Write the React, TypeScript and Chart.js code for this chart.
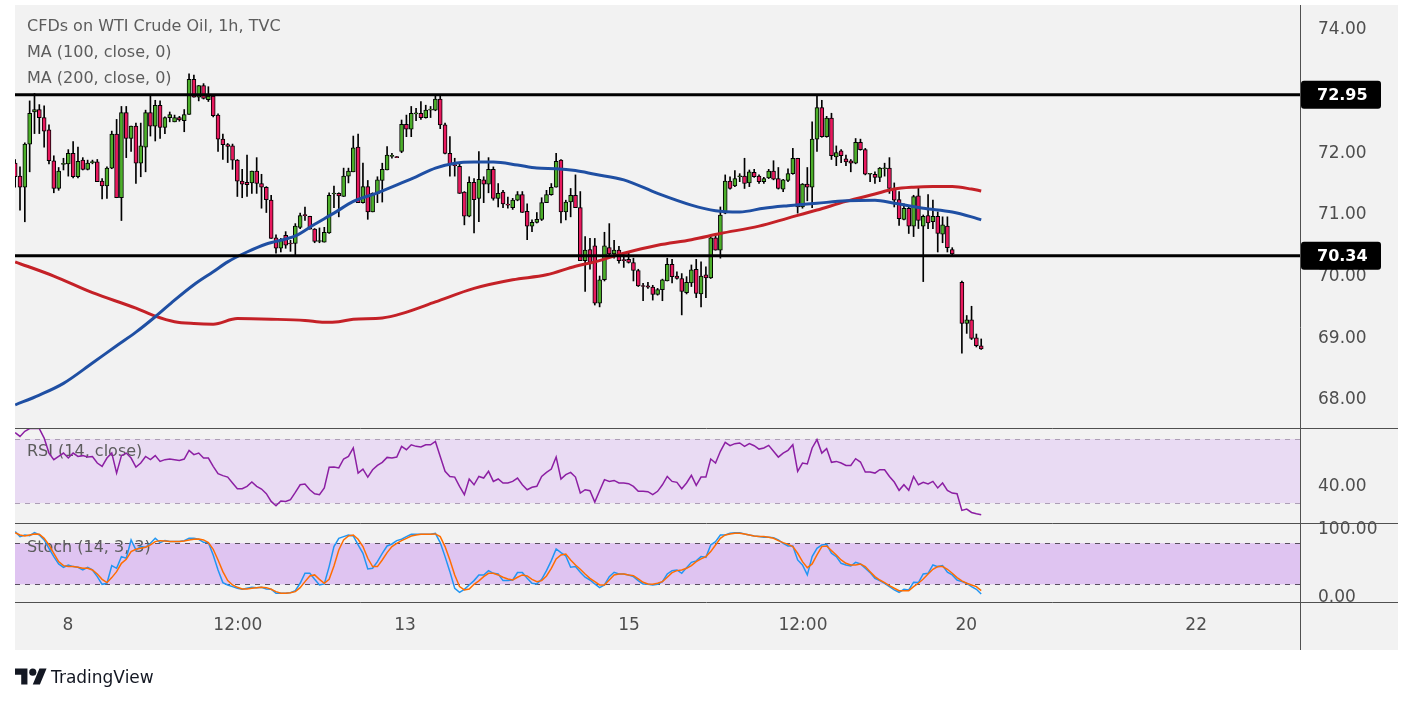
import React, { useEffect, useRef } from 'react';
import { Chart, registerables } from 'chart.js';

Chart.register(...registerables);

// ---------- DATA ----------
const titleLines = ['CFDs on WTI Crude Oil, 1h, TVC', 'MA (100, close, 0)', 'MA (200, close, 0)'];
const rsiTitle = 'RSI (14, close)';
const stochTitle = 'Stoch (14, 3, 3)';

const xTickPos = [10.9, 46.1, 80.7, 127.1, 163.1, 196.9, 244.5];
const xTickLabels = ['8', '12:00', '13', '15', '12:00', '20', '22'];

const priceTicks = [68, 69, 70, 71, 72, 74];
const rsiTicks = [40];
const stochTicks = [0, 100];
const levels = [72.95, 70.34];
const rsiBand = [30, 70];
const stochBand = [20, 80];

const opens = [
71.84,71.63,71.45,72.15,72.67,72.71,72.58,72.38,71.88,71.43,
71.82,71.83,72.00,71.62,71.89,71.74,71.85,71.86,71.55,71.47,
71.76,72.31,71.28,72.66,72.24,72.44,71.84,72.10,72.66,72.44,
72.78,72.42,72.58,72.51,72.58,72.53,72.63,73.20,72.91,73.10,
72.87,72.93,72.62,72.23,72.14,72.12,71.89,71.55,71.53,71.52,
71.71,71.51,71.45,71.24,70.63,70.46,70.67,70.54,70.54,70.80,
71.00,70.98,70.77,70.57,70.56,70.71,71.34,71.35,71.30,71.63,
71.70,72.10,71.20,71.46,71.05,71.34,71.56,71.73,71.95,71.94,
72.03,72.47,72.39,72.64,72.65,72.58,72.70,72.70,72.88,72.46,
72.00,71.81,71.79,71.37,70.98,71.53,71.27,71.57,71.50,71.74,
71.27,71.37,71.17,71.12,71.24,71.33,71.06,70.82,70.88,70.93,
71.20,71.33,71.45,71.89,71.05,71.21,71.32,71.12,70.26,70.44,
70.50,69.57,69.95,70.47,70.37,70.43,70.27,70.28,70.23,70.10,
69.85,69.85,69.83,69.71,69.79,69.93,70.20,70.01,69.97,69.74,
69.90,70.12,69.72,70.03,69.98,70.63,70.43,71.03,71.55,71.47,
71.62,71.63,71.52,71.69,71.63,71.54,71.60,71.71,71.59,71.42,
71.56,71.67,71.92,71.13,71.50,71.45,72.23,72.74,72.27,72.57,
71.94,72.04,71.91,71.88,71.84,72.18,72.06,71.66,71.66,71.61,
71.75,71.76,71.43,71.25,70.93,71.11,70.82,71.31,70.82,70.99,
70.89,70.98,70.69,70.82,70.44,null,69.91,69.24,69.30,69.01,
68.88];

const highs = [
71.90,71.78,72.17,72.85,72.97,72.79,72.77,72.46,71.96,71.77,
71.92,72.06,72.19,72.10,71.93,71.89,71.89,71.90,71.59,71.78,
72.36,72.55,72.76,72.76,72.44,72.49,72.49,72.70,72.94,72.86,
72.85,72.59,72.67,72.62,72.60,72.71,73.29,73.27,73.10,73.13,
73.08,72.94,72.64,72.31,72.16,72.15,71.90,71.74,71.97,71.71,
71.93,71.66,71.46,71.32,70.68,70.62,70.73,70.59,70.86,71.03,
71.13,70.98,70.78,70.79,70.80,71.36,71.47,71.36,71.76,71.76,
72.28,72.31,71.84,71.56,71.36,71.62,71.84,72.11,72.00,71.95,
72.54,72.62,72.76,72.73,72.84,72.78,72.76,72.94,72.94,72.49,
72.27,71.92,71.84,71.38,71.62,71.59,72.03,71.62,71.93,71.78,
71.51,71.40,71.29,71.27,71.38,71.38,71.18,70.92,71.04,71.28,
71.40,71.51,72.00,71.90,71.24,71.43,71.65,71.38,70.65,70.62,
70.62,70.01,70.72,70.86,70.59,70.49,70.35,70.40,70.30,70.12,
69.89,69.91,69.86,69.81,69.96,70.30,70.28,70.08,70.05,70.00,
70.19,70.28,70.24,70.16,70.65,70.67,71.13,71.65,71.62,71.72,
71.67,71.92,71.73,71.74,71.65,71.61,71.74,71.88,71.77,71.58,
71.75,72.08,71.92,71.51,71.77,72.51,72.93,72.86,72.60,72.65,
72.12,72.06,71.97,71.90,72.24,72.23,72.08,71.67,71.70,71.77,
71.84,71.93,71.52,71.38,71.18,71.13,71.32,71.45,71.00,71.33,
71.24,71.05,70.97,70.97,70.47,null,69.93,69.37,69.52,69.07,
68.99];

const lows = [
71.45,71.08,70.89,71.70,72.32,72.32,72.10,71.83,71.36,71.40,
71.73,71.63,71.60,71.60,71.73,71.73,71.83,71.54,71.26,71.27,
71.75,71.28,70.91,71.93,72.03,71.51,71.62,71.70,72.28,72.20,
72.24,72.32,72.51,72.51,72.52,72.35,72.63,72.91,72.85,72.88,
72.84,72.59,72.03,71.90,71.85,71.74,71.30,71.28,71.30,71.35,
71.35,71.11,71.04,70.62,70.38,70.40,70.46,70.41,70.35,70.78,
70.91,70.77,70.55,70.55,70.56,70.70,71.12,70.97,71.30,71.52,
71.70,71.20,71.19,70.93,71.05,71.20,71.21,71.73,71.92,71.93,
72.01,72.27,72.27,72.53,72.55,72.57,72.58,72.69,72.40,71.99,
71.63,71.63,71.35,70.84,70.97,70.71,70.89,71.20,71.36,71.24,
71.13,71.12,71.11,71.09,71.23,71.04,70.60,70.73,70.87,70.91,
71.20,71.32,71.45,70.87,70.92,70.97,71.12,70.26,69.76,70.12,
69.54,69.51,69.93,70.35,70.30,70.22,70.15,70.22,69.93,69.84,
69.61,69.81,69.62,69.70,69.61,69.93,69.90,69.96,69.38,69.72,
69.84,69.66,69.51,69.66,69.97,70.43,70.30,71.02,71.42,71.46,
71.54,71.43,71.46,71.61,71.51,71.51,71.59,71.57,71.42,71.38,
71.54,71.66,71.03,71.11,71.23,71.12,72.03,72.26,72.26,71.90,
71.80,71.85,71.80,71.70,71.83,72.05,71.65,71.54,71.51,71.54,
71.63,71.35,71.13,70.83,70.92,70.70,70.65,70.78,69.92,70.78,
70.78,70.40,70.55,70.40,70.35,null,68.76,69.08,68.98,68.86,
68.82];

const closes = [
71.62,71.45,72.15,72.65,72.71,72.58,72.36,71.88,71.43,71.71,
71.82,72.00,71.62,71.87,71.74,71.84,71.86,71.54,71.47,71.76,
72.31,71.28,72.66,72.24,72.44,71.84,72.12,72.66,72.44,72.78,
72.42,72.58,72.63,72.58,72.54,72.63,73.20,72.91,73.10,72.89,
72.93,72.61,72.23,72.14,72.11,71.89,71.55,71.50,71.49,71.71,
71.51,71.45,71.25,70.62,70.46,70.59,70.51,70.53,70.82,70.99,
70.99,70.77,70.57,70.57,70.72,71.32,71.34,71.31,71.63,71.71,
72.09,71.20,71.46,71.05,71.35,71.57,71.74,71.97,71.95,71.93,
72.47,72.39,72.65,72.65,72.58,72.70,72.70,72.88,72.46,72.00,
71.83,71.80,71.35,70.98,71.53,71.25,71.58,71.50,71.74,71.27,
71.35,71.18,71.16,71.24,71.33,71.04,70.82,70.88,70.93,71.20,
71.33,71.45,71.87,71.05,71.21,71.32,71.12,70.26,70.43,70.23,
69.57,69.95,70.50,70.37,70.43,70.26,70.26,70.23,70.10,69.85,
69.84,69.83,69.71,69.79,69.95,70.20,70.00,69.97,69.76,69.91,
70.11,69.73,70.01,69.98,70.63,70.43,71.00,71.55,71.43,71.59,
71.62,71.51,71.70,71.62,71.54,71.59,71.71,71.58,71.43,71.57,
71.67,71.92,71.13,71.50,71.45,72.23,72.74,72.27,72.57,71.96,
72.01,71.96,71.86,71.84,72.18,72.06,71.66,71.66,71.61,71.76,
71.75,71.43,71.24,70.94,71.11,70.82,71.30,70.91,70.98,70.87,
70.98,70.70,70.84,70.47,70.37,null,69.24,69.30,69.00,68.88,
68.83];

const ma100Idx = [0,5,10,16,21,25,29,33,37,41,44,48,52,58,62,66,70,75,80,83,87,91,95,99,104,108,112,116,120,126,133,140,145,150,155,160,166,172,178,182,188,194,198,200];
const ma100Val = [67.92,68.08,68.27,68.6,68.88,69.1,69.35,69.62,69.87,70.08,70.24,70.4,70.53,70.66,70.85,71.03,71.22,71.36,71.52,71.62,71.76,71.84,71.86,71.86,71.81,71.76,71.75,71.72,71.66,71.57,71.35,71.16,71.07,71.05,71.11,71.15,71.19,71.23,71.24,71.19,71.11,71.05,70.97,70.92];

const ma200Idx = [0,8,16,25,29,33,37,41,46,53,60,64,67,70,76,80,87,95,103,110,116,120,126,133,140,146,154,160,166,172,178,182,186,190,194,198,200];
const ma200Val = [70.24,70.01,69.74,69.49,69.36,69.27,69.24,69.23,69.32,69.31,69.29,69.26,69.27,69.31,69.33,69.4,69.59,69.81,69.95,70.03,70.17,70.24,70.38,70.51,70.6,70.7,70.82,70.95,71.08,71.22,71.34,71.42,71.45,71.46,71.46,71.42,71.39];

const rsi = [
74,71.6,74.8,76.5,76.5,76.5,70.6,61.2,57.1,59.1,
61.2,58.1,61.2,59.1,59.6,58.7,59.1,55,52.9,58.1,
61.2,48.7,59.6,61.2,58.1,52.5,55,59.1,57.1,59.6,
56,57.1,57.5,57.1,56.6,57.5,62.9,60.2,61.2,58.1,
58.1,52.9,48.3,47.1,46.2,42.5,38.9,38.9,40.4,43.1,
40.4,38.7,35.8,31,28.3,31.2,31,32.1,36.6,41.4,
41.8,38.3,35.8,35.2,39.4,52.3,52.5,51.9,57.5,59.1,
64.4,48.7,51.2,46.2,50.8,53.5,55.4,58.5,58.1,58.7,
65.4,63.3,66.4,65.4,65,66.4,66.4,68.5,59.1,49.8,
46.6,46.2,40.4,35.2,45,41.4,46.6,45.6,49.8,43.5,
45,42.5,42.5,43.5,45.6,41.4,38.3,39.8,40.4,46.6,
49.1,51.2,58.7,45,47.7,49.1,46.2,36.2,38.3,37.7,
30.6,37.7,44.6,43.5,44.1,42.5,42.5,42.1,40.4,37.3,
37.3,37.1,35.2,37.3,41.4,46.6,43.5,42.9,38.9,42.5,
47.3,41,46.2,46.2,57.5,55,62.3,67.9,65.8,67.1,
67.5,65.4,67.1,65.8,63.7,64.4,66,62.3,58.7,61.2,
62.9,66.4,49.8,55,54.4,64.4,69.6,61.2,64,55.4,
56,55,53.5,53.5,57.7,55.6,49.4,49.4,48.7,50.8,
50.8,46.6,43.1,37.9,41.4,37.9,46.6,41.4,42.9,41.9,
43.5,39.4,42.5,37.9,36.2,35.8,25.4,26.2,24.1,23.3,
22.7];

const stochK = [
97.1,89.8,92.2,91.2,95.6,92.2,84.9,72.7,60.5,49.8,
44.9,48.3,45.9,44.9,41,44.9,41,31.3,20,21.5,
47.3,43.4,60.5,58.1,84.9,70.3,75.2,74.2,80,87.3,
81,83.9,82.5,82.5,82.5,83.9,87.3,87.3,85.9,81.5,
81,63,41,22.5,19,16.6,14.2,12.7,14.2,15.6,
15.1,15.6,13.2,12.7,6.8,6.8,6.8,7.8,10.8,21.5,
36.1,36.1,27.3,19,20.5,45.9,75.2,87.3,89.8,92.2,
90.7,77.6,65.4,42.5,43.4,53.2,65.4,76.1,79,83.9,
85.9,89.8,93.2,93.2,93.2,93.2,93.2,94.6,81,60.5,
38.5,14.2,8.3,12.7,19,25.4,33.7,33.7,40,36.1,
35.1,25.4,25.4,26.3,37.1,37.1,28.8,21.5,20.5,27.3,
40,54.6,71.7,66.3,61.5,44.9,45.9,37.6,30.3,26.3,
20.5,15.1,19,31.2,37.6,35.1,35.1,33.7,31.2,25.4,
20.5,20,19,20,23.9,35.1,40,41,36.1,44.4,
52.2,54.2,60.5,59.5,77.6,82.5,92.2,92.2,94.6,95.6,
95.6,93.7,92.2,90.7,89.8,88.8,88.8,88.3,84.9,80,
76.1,76.1,55.6,48.3,33.7,60.5,72.7,77.6,78.5,65.4,
60.5,50.7,48.3,46.8,52.2,49.8,43.4,37.1,28.8,25.4,
21.5,16.6,11.7,8.3,12.7,11.7,23,22.5,35.1,36.1,
48.3,45.9,47.3,37.6,33.7,26.3,23.9,21.5,16.6,12.7,
5.9];

const stochD = [
95.6,92.2,90.7,92.2,93.7,93.2,87.3,77.6,65.4,53.2,
47.3,45.9,45.9,44.9,43.4,43.4,41,35.1,27.3,22.5,
29.8,38.5,50.7,56.6,67.8,71.2,72.7,74.2,77.6,82.5,
83.9,83.4,82.5,82.5,82.5,83.4,84.9,85.9,86.3,84.9,
81,71.2,55.6,38.5,25.4,19,15.6,13.2,13.2,14.2,
15.1,15.6,15.1,12.7,9.3,6.8,6.8,7.8,9.3,15.1,
23.9,32.2,33.7,27.3,21.5,27.3,46.8,70.3,84.9,90.7,
92.2,85.9,75.2,58.1,45.9,45.9,55.6,66.4,75.2,80,
83.9,87.3,90.7,92.2,93.2,93.2,93.2,93.7,89.8,75.2,
55.6,33.7,16.6,11.7,13.2,20,25,31.2,36.1,36.1,
33.7,30.3,27.8,26.3,30.3,33.7,32.2,27.3,23.9,25.4,
32.2,43.4,57.1,62.9,64.4,55.6,48.3,42,35.1,28.8,
23.9,19,19,26.3,33.7,35.1,35.1,33.7,32.7,27.8,
22.9,20.5,20,21.5,23.9,30.3,37.1,40,41,43.4,
47.3,53.2,57.1,60.5,67.8,77.6,87.3,92.2,93.7,94.6,
94.6,93.7,92.2,90.7,89.8,89.8,88.8,87.3,83.9,81,
78.5,75.2,65.4,53.2,44.4,49.8,62.9,75.2,76.1,69.3,
62.9,55.6,50.7,48.3,48.3,49.8,45.9,38.5,31.2,26.3,
22.5,18.1,14.2,10.7,10.7,10.7,16.6,21.5,27.8,35.1,
42,45.9,45.9,42,36.1,29.8,24.9,21.5,19,16.6,
10.7];

// ---------- STYLE ----------
const FONT = 'DejaVu Sans';
const UP = '#4caf2a';
const DOWN = '#e8195e';
const MA100_COLOR = '#1f4fa3';
const MA200_COLOR = '#c42127';
const RSI_COLOR = '#8c1fa3';
const K_COLOR = '#2196f3';
const D_COLOR = '#ff6d00';
const TEXT = '#5c5c5c';
const AXIS_TEXT = '#4e4e4e';
const DIVIDER = '#505050';

const noPad = (s: any) => {
  s.paddingTop = 0;
  s.paddingBottom = 0;
  s.paddingLeft = 0;
  s.paddingRight = 0;
};

export default function App() {
  const ref = useRef<HTMLCanvasElement | null>(null);

  useEffect(() => {
    if (!ref.current) return;
    const valid = opens.map((_, i) => i).filter((i) => opens[i] != null);
    const wickData = valid.map((i) => ({ x: i, y: [lows[i] as number, highs[i] as number] }));
    const bodyData = valid.map((i) => ({ x: i, y: [opens[i] as number, closes[i] as number] }));
    const bodyColors = valid.map((i) => ((closes[i] as number) >= (opens[i] as number) ? UP : DOWN));
    const all = rsi.map((_, i) => i);

    const panePlugin = {
      id: 'panes',
      beforeDatasetsDraw(chart: any) {
        const { ctx, chartArea: a, scales } = chart;
        const L = a.left, R = a.right;
        const yr = scales.yRsi, ys = scales.yStoch;
        ctx.save();
        const r1 = yr.getPixelForValue(rsiBand[1]);
        const r0 = yr.getPixelForValue(rsiBand[0]);
        ctx.fillStyle = '#e9dbf3';
        ctx.fillRect(L, r1, R - L, r0 - r1);
        ctx.strokeStyle = '#ad9fb6';
        ctx.lineWidth = 1;
        ctx.setLineDash([5, 5]);
        [r1, r0].forEach((y) => {
          ctx.beginPath();
          ctx.moveTo(L, Math.round(y) + 0.5);
          ctx.lineTo(R, Math.round(y) + 0.5);
          ctx.stroke();
        });
        const s1 = ys.getPixelForValue(stochBand[1]);
        const s0 = ys.getPixelForValue(stochBand[0]);
        ctx.fillStyle = '#dfc4f1';
        ctx.fillRect(L, s1, R - L, s0 - s1);
        ctx.strokeStyle = '#5a5060';
        [s1, s0].forEach((y) => {
          ctx.beginPath();
          ctx.moveTo(L, Math.round(y) + 0.5);
          ctx.lineTo(R, Math.round(y) + 0.5);
          ctx.stroke();
        });
        ctx.setLineDash([]);
        ctx.font = `16px "${FONT}"`;
        ctx.fillStyle = TEXT;
        ctx.textAlign = 'left';
        ctx.textBaseline = 'middle';
        titleLines.forEach((t, i) => ctx.fillText(t, L + 12, a.top + 22 + i * 26));
        ctx.fillText(rsiTitle, L + 12, yr.top + 24);
        ctx.fillText(stochTitle, L + 12, ys.top + 25);
        ctx.restore();
      },
      afterDatasetsDraw(chart: any) {
        const { ctx, chartArea: a, scales } = chart;
        const L = a.left, R = a.right;
        const yp = scales.y;
        ctx.save();
        ctx.strokeStyle = '#000';
        ctx.lineWidth = 3;
        levels.forEach((lv) => {
          const y = yp.getPixelForValue(lv);
          ctx.beginPath();
          ctx.moveTo(L, y);
          ctx.lineTo(R, y);
          ctx.stroke();
        });
        ctx.strokeStyle = DIVIDER;
        ctx.lineWidth = 1;
        const right = yp.right;
        [scales.y.bottom, scales.yRsi.bottom, scales.yStoch.bottom].forEach((y: number) => {
          ctx.beginPath();
          ctx.moveTo(L, Math.round(y) + 0.5);
          ctx.lineTo(right, Math.round(y) + 0.5);
          ctx.stroke();
        });
        ctx.beginPath();
        ctx.moveTo(Math.round(R) + 0.5, a.top);
        ctx.lineTo(Math.round(R) + 0.5, scales.x.bottom);
        ctx.stroke();
        levels.forEach((lv) => {
          const y = yp.getPixelForValue(lv);
          ctx.fillStyle = '#000';
          ctx.beginPath();
          if ((ctx as any).roundRect) (ctx as any).roundRect(R + 1, y - 14, 80, 28, 3);
          else ctx.rect(R + 1, y - 14, 80, 28);
          ctx.fill();
          ctx.fillStyle = '#fff';
          ctx.font = `bold 16px "${FONT}"`;
          ctx.textAlign = 'left';
          ctx.textBaseline = 'middle';
          ctx.fillText(lv.toFixed(2), R + 17, y + 1);
        });
        ctx.restore();
      },
    };

    const tickFont = { family: FONT, size: 17 };
    const yCommon = (ticks: number[]) => ({
      type: 'linear' as const,
      position: 'right' as const,
      stack: 'panes',
      grid: { display: false, drawTicks: false },
      border: { display: false },
      afterBuildTicks: (s: any) => {
        s.ticks = ticks.map((v) => ({ value: v }));
      },
      afterFit: (s: any) => {
        s.width = 98;
        noPad(s);
      },
      ticks: {
        padding: 18,
        color: AXIS_TEXT,
        font: tickFont,
        callback: (v: any) => Number(v).toFixed(2),
      },
    });

    const chart = new Chart(ref.current, {
      type: 'bar',
      data: {
        datasets: [
          {
            type: 'line',
            data: ma100Idx.map((x, k) => ({ x, y: ma100Val[k] })),
            borderColor: MA100_COLOR,
            borderWidth: 3,
            pointRadius: 0,
            tension: 0.4,
            cubicInterpolationMode: 'monotone',
            yAxisID: 'y',
            order: 0,
          } as any,
          {
            type: 'line',
            data: ma200Idx.map((x, k) => ({ x, y: ma200Val[k] })),
            borderColor: MA200_COLOR,
            borderWidth: 3,
            pointRadius: 0,
            tension: 0.4,
            cubicInterpolationMode: 'monotone',
            yAxisID: 'y',
            order: 1,
          } as any,
          {
            type: 'bar',
            data: bodyData,
            backgroundColor: bodyColors,
            borderColor: '#000',
            borderWidth: 1,
            borderSkipped: false,
            barThickness: 4,
            minBarLength: 1,
            grouped: false,
            yAxisID: 'y',
            order: 2,
          } as any,
          {
            type: 'bar',
            data: wickData,
            backgroundColor: '#000',
            borderWidth: 0,
            barThickness: 1,
            grouped: false,
            yAxisID: 'y',
            order: 3,
          } as any,
          {
            type: 'line',
            data: all.map((i) => ({ x: i, y: rsi[i] })),
            borderColor: RSI_COLOR,
            borderWidth: 1.5,
            pointRadius: 0,
            tension: 0,
            yAxisID: 'yRsi',
            order: 0,
          } as any,
          {
            type: 'line',
            data: all.map((i) => ({ x: i, y: stochD[i] })),
            borderColor: D_COLOR,
            borderWidth: 1.5,
            pointRadius: 0,
            tension: 0,
            yAxisID: 'yStoch',
            order: 0,
          } as any,
          {
            type: 'line',
            data: all.map((i) => ({ x: i, y: stochK[i] })),
            borderColor: K_COLOR,
            borderWidth: 1.5,
            pointRadius: 0,
            tension: 0,
            yAxisID: 'yStoch',
            order: 1,
          } as any,
        ],
      },
      options: {
        animation: false,
        responsive: false,
        events: [],
        layout: { padding: { left: 15, right: 15, top: 5, bottom: 53 } },
        plugins: { legend: { display: false }, tooltip: { enabled: false } },
        scales: {
          x: {
            type: 'linear',
            min: -0.035,
            max: 266,
            offset: false,
            grid: { display: false, drawTicks: false },
            border: { display: false },
            afterBuildTicks: (s: any) => {
              s.ticks = xTickPos.map((v) => ({ value: v }));
            },
            afterFit: (s: any) => {
              s.height = 48;
              noPad(s);
            },
            ticks: {
              autoSkip: false,
              maxRotation: 0,
              padding: 13,
              color: AXIS_TEXT,
              font: tickFont,
              callback: (v: any) => xTickLabels[xTickPos.indexOf(Number(v))],
            },
          },
          y: { ...yCommon(priceTicks), stackWeight: 423, min: 67.546, max: 74.405 },
          yRsi: { ...yCommon(rsiTicks), stackWeight: 95, min: 17.5, max: 76.875 },
          yStoch: { ...yCommon(stochTicks), stackWeight: 79, min: -5.9, max: 109.7 },
        } as any,
      },
      plugins: [panePlugin],
    } as any);

    return () => chart.destroy();
  }, []);

  return (
    <div style={{ position: 'absolute', left: 0, top: 0, width: 1413, height: 703, background: '#ffffff', overflow: 'hidden' }}>
      <div style={{ position: 'absolute', left: 15, top: 5, width: 1383, height: 645, background: '#f2f2f2' }} />
      <canvas ref={ref} width={1413} height={703} style={{ position: 'absolute', left: 0, top: 0, width: 1413, height: 703 }} />
      <div style={{ position: 'absolute', left: 15, top: 664, display: 'flex', alignItems: 'center', height: 26 }}>
        <svg width="32" height="25" viewBox="0 0 36 28" style={{ display: 'block' }}>
          <path d="M14 22H7V11H0V4h14v18zM28 22h-8l7.5-18h8L28 22z" fill="#131722" />
          <circle cx="20" cy="8" r="4" fill="#131722" />
        </svg>
        <span style={{ marginLeft: 4, fontFamily: '"DejaVu Sans", sans-serif', fontSize: 17, color: '#131722', lineHeight: '26px' }}>TradingView</span>
      </div>
    </div>
  );
}
